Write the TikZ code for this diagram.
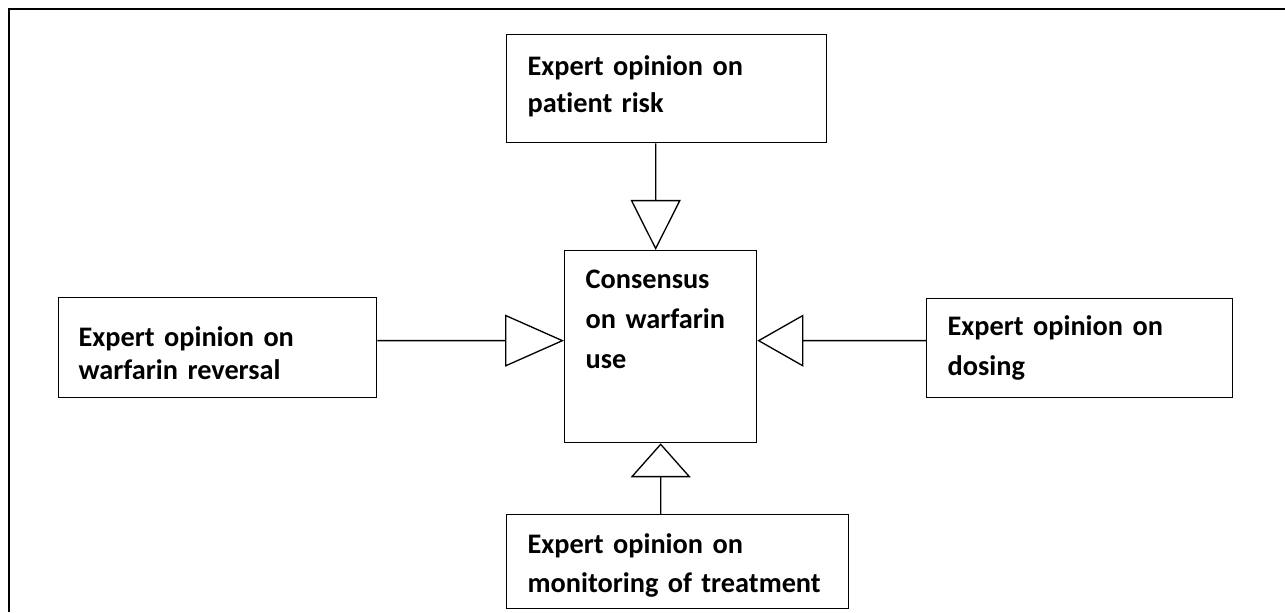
\documentclass[tikz,border=0pt]{standalone}
\usepackage{fontspec}
\setmainfont{Carlito}[Ligatures=NoCommon]
\usetikzlibrary{arrows.meta}
\hyphenpenalty=10000
\newcommand{\boxfont}{\fontsize{16.1}{22.8}\selectfont\bfseries}
\begin{document}
\begin{tikzpicture}[box/.style={draw,line width=0.75pt,anchor=north west,align=left,inner xsep=0.42cm,inner ysep=0pt,font=\boxfont},link/.style={line width=0.75pt}]
\useasboundingbox (0,0) rectangle (25.7,12.24);
\draw[line width=1.2pt] (0.18,0) -- (0.18,12.06) -- (25.7,12.06);
\node[box,text width=5.56cm,text height=0.82cm,text depth=1.34cm] (risk) at (10.12,11.56) {Expert opinion on\\[-0.06cm]patient risk};
\node[box,text width=3.0cm,text height=0.76cm,text depth=3.08cm] (cons) at (11.28,7.24) {Consensus\\on warfarin\\use};
\node[box,inner xsep=0.4cm,text width=5.56cm,text height=0.98cm,text depth=1.02cm] (rev) at (1.16,6.30) {Expert opinion on\\[-0.14cm]warfarin reversal};
\node[box,text width=5.28cm,text height=0.74cm,text depth=1.24cm] (dose) at (18.52,6.28) {Expert opinion on\\dosing};
\node[box,text width=6.0cm,text height=0.78cm,text depth=1.10cm] (mon) at (10.12,1.96) {Expert opinion on\\[-0.02cm]monitoring of treatment};
\draw[link,-{Triangle[open,length=1.0cm,width=1.0cm]}] ([xshift=-0.22cm]risk.south) -- ([xshift=-0.1cm]cons.north);
\draw[link,-{Triangle[open,length=1.18cm,width=1.04cm]}] ([yshift=0.14cm]rev.east) -- ([yshift=0.12cm]cons.west);
\draw[link,-{Triangle[open,length=0.92cm,width=1.04cm]}] ([yshift=0.15cm]dose.west) -- ([yshift=0.12cm]cons.east);
\draw[link,-{Triangle[open,length=0.68cm,width=1.2cm]}] ([xshift=-0.34cm]mon.north) -- (cons.south);
\end{tikzpicture}
\end{document}
